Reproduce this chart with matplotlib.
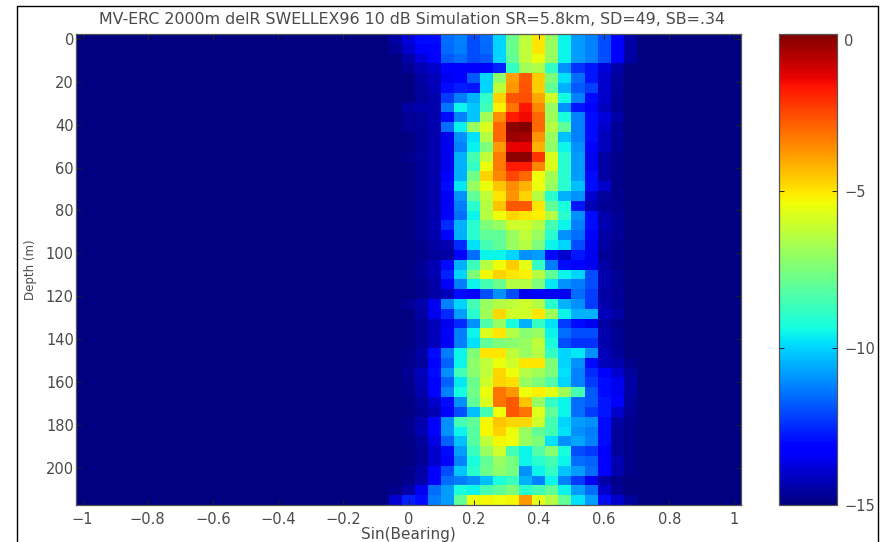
import numpy as np
import matplotlib
matplotlib.use("Agg")
import matplotlib.pyplot as plt
from matplotlib.lines import Line2D

plt.rcParams['font.family'] = ['DejaVu Sans']

title = "MV-ERC 2000m delR SWELLEX96 10 dB Simulation SR=5.8km, SD=49, SB=.34"
x_ticks = [-1, -0.8, -0.6, -0.4, -0.2, 0, 0.2, 0.4, 0.6, 0.8, 1]
x_labels = ["\u22121", "\u22120.8", "\u22120.6", "\u22120.4", "\u22120.2", "0", "0.2", "0.4", "0.6", "0.8", "1"]
y_ticks = [0, 20, 40, 60, 80, 100, 120, 140, 160, 180, 200]
cbar_ticks = [0, -5, -10, -15]
cbar_labels = ["0", "\u22125", "\u221210", "\u221215"]

# levels in dB, one row per depth bin, columns 24 to 42 of 51
# everything outside that range is at the floor of -15
levels = [
    [-14.5, -13.8, -13.0, -13.0, -11.5, -11.2, -12.0, -11.5, -10.0, -7.8, -6.3, -5.0, -7.0, -9.5, -10.8, -11.2, -12.0, -13.2, -14.5],
    [-14.7, -14.0, -13.3, -13.1, -11.6, -11.3, -12.0, -11.6, -10.0, -7.8, -6.3, -5.0, -7.0, -9.5, -10.8, -11.2, -12.0, -13.2, -14.5],
    [-15.0, -14.5, -13.8, -13.3, -11.8, -11.5, -12.0, -11.8, -10.0, -8.0, -6.3, -5.5, -7.0, -9.5, -10.8, -11.2, -12.0, -13.3, -14.5],
    [-15.0, -14.7, -14.3, -14.0, -13.3, -13.3, -13.3, -13.3, -12.6, -8.8, -6.8, -6.6, -8.8, -11.0, -12.4, -12.8, -13.8, -14.5, -15.0],
    [-15.0, -15.0, -14.5, -14.2, -13.5, -13.3, -11.8, -10.0, -7.2, -3.9, -2.8, -4.6, -7.5, -9.8, -11.5, -12.8, -14.0, -14.6, -15.0],
    [-15.0, -15.0, -14.6, -14.2, -13.0, -12.7, -12.8, -10.0, -6.3, -3.8, -2.7, -4.6, -8.0, -10.5, -11.8, -12.2, -14.0, -14.6, -15.0],
    [-15.0, -15.0, -14.6, -14.4, -12.3, -11.3, -10.5, -8.9, -4.7, -2.7, -2.6, -4.0, -6.0, -9.4, -11.2, -13.0, -14.0, -14.7, -15.0],
    [-15.0, -14.5, -14.4, -14.4, -11.4, -9.5, -10.2, -8.6, -5.2, -3.2, -1.7, -3.5, -7.0, -11.0, -12.8, -13.2, -14.2, -14.7, -15.0],
    [-15.0, -14.7, -14.6, -14.4, -13.0, -11.2, -10.2, -6.8, -3.6, -1.8, -1.5, -3.0, -6.8, -9.3, -11.2, -13.0, -13.8, -14.5, -15.0],
    [-15.0, -14.7, -14.6, -14.4, -11.5, -9.6, -7.0, -5.8, -3.0, -0.2, -0.1, -3.0, -6.5, -8.0, -11.2, -13.0, -14.0, -14.7, -15.0],
    [-15.0, -15.0, -14.7, -14.4, -13.5, -11.0, -9.8, -6.5, -3.0, -0.4, -0.5, -3.7, -7.0, -10.3, -11.2, -13.0, -14.2, -14.7, -15.0],
    [-15.0, -15.0, -14.7, -14.4, -13.5, -11.2, -9.6, -7.5, -3.8, -1.4, -1.3, -4.2, -7.2, -9.5, -11.0, -13.3, -14.2, -14.7, -15.0],
    [-15.0, -14.8, -14.6, -14.4, -13.5, -10.5, -8.5, -6.3, -3.3, -0.2, -0.2, -2.2, -5.8, -9.0, -10.8, -13.5, -14.5, -14.8, -15.0],
    [-15.0, -15.0, -14.7, -14.4, -13.5, -10.5, -8.8, -5.5, -3.3, -1.8, -1.8, -3.5, -5.8, -9.0, -10.8, -13.5, -14.5, -14.8, -15.0],
    [-15.0, -15.0, -14.7, -14.4, -13.3, -10.5, -7.7, -4.7, -3.5, -2.5, -3.0, -5.4, -6.8, -9.0, -10.8, -13.0, -14.5, -14.8, -15.0],
    [-15.0, -15.0, -14.7, -14.4, -13.0, -9.7, -7.0, -5.5, -4.5, -3.6, -4.2, -5.5, -7.0, -9.0, -10.3, -13.0, -14.0, -14.8, -15.0],
    [-15.0, -15.0, -14.7, -14.4, -13.4, -11.0, -8.0, -6.3, -5.0, -3.7, -4.7, -6.5, -9.0, -10.5, -11.0, -14.0, -14.6, -14.8, -15.0],
    [-15.0, -15.0, -14.7, -14.4, -13.4, -11.3, -9.0, -6.5, -4.5, -2.8, -2.8, -5.0, -8.0, -9.3, -12.8, -14.3, -14.7, -14.8, -15.0],
    [-15.0, -15.0, -14.7, -14.4, -13.3, -11.5, -9.5, -6.5, -5.4, -4.8, -5.0, -5.2, -6.5, -9.0, -11.0, -13.0, -14.4, -14.7, -15.0],
    [-15.0, -15.0, -14.7, -14.3, -12.5, -10.5, -9.0, -7.5, -7.0, -6.0, -6.0, -6.5, -8.5, -9.5, -11.2, -13.0, -14.3, -14.7, -15.0],
    [-15.0, -15.0, -14.7, -14.4, -13.3, -10.5, -9.0, -8.0, -8.0, -7.0, -6.3, -7.0, -9.0, -11.0, -11.5, -13.2, -14.5, -14.7, -15.0],
    [-15.0, -15.0, -14.8, -14.5, -14.3, -12.5, -9.8, -8.5, -8.0, -7.0, -6.5, -7.5, -9.5, -10.0, -12.0, -13.5, -14.5, -14.8, -15.0],
    [-15.0, -15.0, -14.8, -14.6, -14.5, -13.2, -11.5, -9.5, -9.5, -10.0, -11.0, -10.8, -13.0, -14.0, -12.8, -13.5, -14.7, -14.8, -15.0],
    [-15.0, -15.0, -14.7, -14.3, -13.0, -10.5, -8.7, -6.5, -5.4, -4.6, -5.6, -8.8, -11.3, -13.0, -13.3, -13.5, -14.5, -14.8, -15.0],
    [-15.0, -15.0, -14.7, -14.3, -12.6, -10.0, -7.5, -5.3, -4.7, -5.0, -5.2, -6.5, -8.0, -9.5, -10.0, -12.0, -14.4, -14.7, -15.0],
    [-15.0, -15.0, -14.8, -14.5, -13.3, -11.3, -9.5, -8.5, -7.8, -6.5, -6.5, -7.5, -9.7, -11.0, -11.3, -12.0, -14.4, -14.7, -15.0],
    [-15.0, -15.0, -14.8, -14.5, -14.2, -13.0, -13.2, -12.0, -11.0, -12.0, -13.5, -13.2, -13.5, -13.5, -11.5, -12.2, -14.5, -14.7, -15.0],
    [-15.0, -14.7, -14.4, -13.5, -11.2, -10.0, -8.5, -7.0, -6.5, -6.3, -6.0, -6.5, -9.0, -10.5, -11.0, -12.3, -14.4, -14.7, -15.0],
    [-15.0, -15.0, -14.5, -13.5, -12.5, -10.8, -9.0, -6.8, -4.8, -6.0, -6.0, -5.0, -6.8, -9.5, -10.5, -10.5, -14.2, -14.5, -15.0],
    [-15.0, -15.0, -14.7, -14.2, -13.5, -12.5, -11.0, -8.3, -7.0, -9.3, -10.5, -8.8, -9.8, -12.3, -13.0, -13.5, -14.5, -14.8, -15.0],
    [-15.0, -15.0, -14.7, -14.2, -13.2, -11.3, -9.5, -5.8, -5.0, -6.5, -7.3, -7.0, -9.5, -11.5, -12.0, -12.0, -14.4, -14.7, -15.0],
    [-15.0, -15.0, -14.7, -14.2, -13.4, -11.3, -9.8, -8.0, -7.5, -7.3, -7.0, -6.3, -9.3, -12.0, -12.4, -12.4, -14.4, -14.7, -15.0],
    [-15.0, -14.8, -14.5, -13.0, -11.3, -9.5, -7.5, -5.0, -5.0, -6.3, -7.0, -6.5, -8.8, -10.0, -9.7, -11.0, -14.2, -14.6, -15.0],
    [-15.0, -14.8, -14.6, -13.2, -11.7, -9.5, -7.2, -6.3, -5.5, -6.0, -5.0, -5.0, -7.5, -10.0, -11.0, -13.0, -14.2, -14.4, -14.8],
    [-15.0, -14.7, -14.2, -13.0, -11.0, -8.6, -7.3, -6.3, -4.8, -5.4, -6.5, -6.8, -7.5, -9.8, -11.2, -12.5, -13.2, -14.0, -14.6],
    [-15.0, -14.8, -14.3, -13.3, -11.7, -9.7, -7.8, -6.0, -4.7, -4.9, -7.0, -7.5, -8.3, -10.0, -11.2, -12.3, -13.0, -13.5, -14.5],
    [-15.0, -14.8, -14.4, -13.2, -11.2, -9.4, -7.7, -5.5, -3.2, -3.8, -5.4, -5.2, -5.6, -6.8, -8.5, -11.8, -13.0, -13.5, -14.5],
    [-15.0, -14.9, -14.6, -14.0, -13.0, -11.0, -8.0, -5.8, -3.2, -2.8, -4.5, -7.0, -8.8, -9.5, -11.5, -11.8, -12.8, -13.3, -14.6],
    [-15.0, -15.0, -14.7, -14.3, -13.3, -12.0, -10.3, -8.5, -5.4, -2.7, -3.2, -5.7, -8.0, -9.5, -11.5, -12.3, -12.8, -14.0, -14.7],
    [-15.0, -14.8, -14.4, -13.3, -11.0, -8.5, -8.0, -5.3, -4.5, -4.8, -4.8, -6.0, -8.5, -10.0, -10.8, -11.0, -13.0, -14.5, -14.8],
    [-15.0, -14.8, -14.3, -13.3, -11.0, -9.5, -8.2, -5.3, -4.7, -5.5, -7.0, -8.0, -8.5, -9.8, -11.0, -11.3, -13.0, -14.6, -14.8],
    [-15.0, -14.9, -14.6, -13.7, -11.7, -10.3, -8.2, -6.3, -5.3, -5.4, -7.0, -7.5, -9.8, -11.0, -10.7, -11.2, -13.0, -14.6, -14.8],
    [-15.0, -15.0, -14.7, -14.0, -13.0, -10.8, -8.7, -7.0, -6.0, -8.5, -9.5, -8.3, -7.3, -9.3, -12.0, -12.3, -13.3, -14.6, -14.8],
    [-15.0, -15.0, -14.7, -14.0, -13.2, -11.2, -9.3, -8.0, -7.0, -7.6, -9.5, -9.0, -8.5, -9.5, -11.5, -11.7, -13.3, -14.3, -14.8],
    [-15.0, -14.8, -14.5, -13.2, -12.0, -10.2, -9.0, -7.8, -7.2, -7.6, -11.0, -9.5, -8.8, -10.2, -10.8, -11.5, -13.2, -14.4, -14.8],
    [-15.0, -14.8, -14.4, -13.2, -11.5, -11.3, -11.0, -10.3, -9.2, -8.7, -10.5, -11.2, -9.5, -11.2, -12.3, -13.5, -14.5, -14.8, -15.0],
    [-14.8, -14.5, -13.5, -11.5, -10.8, -9.3, -9.5, -8.5, -8.0, -7.5, -9.0, -8.5, -8.0, -9.5, -10.8, -11.5, -14.0, -14.7, -15.0],
    [-13.9, -12.7, -13.0, -11.3, -10.8, -8.0, -5.5, -5.3, -5.4, -5.3, -3.8, -5.6, -6.5, -8.0, -9.8, -10.8, -13.0, -14.0, -14.6],
]

n_cols = 51
first_col = 24
dx = 0.04
dz = 4.575

W, H = 880, 542
fig = plt.figure(figsize=(W / 100, H / 100), dpi=100)
ax = fig.add_axes([76 / W, 1 - 505 / H, 665 / W, 471 / H])
cax = fig.add_axes([779 / W, 1 - 505 / H, 58 / W, 471 / H])

# pad the measured columns out to the full bearing range
grid = np.full((len(levels), n_cols), -15.0)
grid[:, first_col:first_col + len(levels[0])] = np.array(levels)

x_edges = (np.arange(n_cols + 1) - n_cols / 2) * dx
z_edges = (np.arange(len(levels) + 1) - 0.5) * dz

mesh = ax.pcolormesh(x_edges, z_edges, grid, cmap='jet', vmin=-15, vmax=0)
ax.set_xlim(x_edges[0], x_edges[-1])
ax.set_ylim(z_edges[-1], z_edges[0])

text_col = '#4a4a4a'
ax.set_xticks(x_ticks)
ax.set_xticklabels(x_labels)
ax.set_yticks(y_ticks)
ax.tick_params(direction='in', length=3.5, width=0.7, top=True, right=True,
               color='#222222', labelcolor=text_col, labelsize=10.5)
ax.tick_params(axis='x', pad=5)
ax.tick_params(axis='y', pad=1.5)
ax.set_xlabel("Sin(Bearing)", fontsize=11, color=text_col)
ax.xaxis.set_label_coords(0.5, -(534 - 505) / 471, transform=ax.transAxes)
ax.xaxis.label.set_va('center')
ax.set_ylabel("Depth (m)", fontsize=8.5, color=text_col)
ax.yaxis.set_label_coords((30 - 76) / 665, 0.5, transform=ax.transAxes)
ax.yaxis.label.set_va('center')
ax.text(0.505, 1 + (34 - 19) / 471, title, transform=ax.transAxes, fontsize=11.4,
        color=text_col, ha='center', va='center')
for s in ax.spines.values():
    s.set_color('#555555')
    s.set_linewidth(0.9)

cb = fig.colorbar(mesh, cax=cax, ticks=cbar_ticks)
cb.ax.set_yticklabels(cbar_labels)
cb.ax.tick_params(direction='in', length=3.5, width=0.7, left=True, right=True,
                  color='#222222', labelcolor=text_col, labelsize=10.5, pad=5)
cb.ax.get_yticklabels()[0].set_va('top')
cb.outline.set_edgecolor('#555555')
cb.outline.set_linewidth(0.9)

# page frame around the figure, open at the bottom
frame_x = [17 / W, 17 / W, 878 / W, 878 / W]
frame_y = [0, 1 - 6 / H, 1 - 6 / H, 0]
fig.add_artist(Line2D(frame_x, frame_y, color='black', linewidth=1.0, transform=fig.transFigure))

fig.savefig("out.png", dpi=100)
